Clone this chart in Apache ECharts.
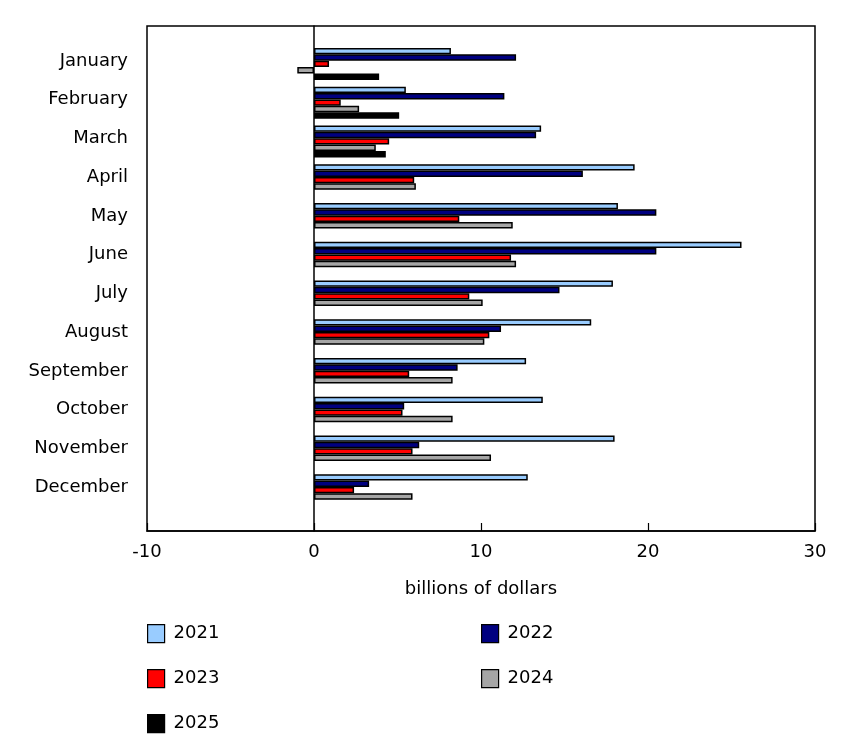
<!DOCTYPE html>
<html>
<head>
<meta charset="utf-8">
<title>Monthly values, 2021 to 2025</title>
<script src="https://cdn.jsdelivr.net/npm/echarts@6/dist/echarts.min.js"></script>
<style>
  html, body { margin: 0; padding: 0; background: #fff; }
  #chart { width: 850px; height: 744px; }
</style>
</head>
<body>
<div id="chart"></div>
<script>
// data (billions of dollars)
const months = ['January', 'February', 'March', 'April', 'May', 'June',
  'July', 'August', 'September', 'October', 'November', 'December']
const years = ['2021', '2022', '2023', '2024', '2025']
const v2021 = [8.2, 5.5, 13.6, 19.2, 18.2, 25.6, 17.9, 16.6, 12.7, 13.7, 18.0, 12.8]
const v2022 = [12.1, 11.4, 13.3, 16.1, 20.5, 20.5, 14.7, 11.2, 8.6, 5.4, 6.3, 3.3]
const v2023 = [0.9, 1.6, 4.5, 6.0, 8.7, 11.8, 9.3, 10.5, 5.7, 5.3, 5.9, 2.4]
const v2024 = [-1.0, 2.7, 3.7, 6.1, 11.9, 12.1, 10.1, 10.2, 8.3, 8.3, 10.6, 5.9]
const v2025 = [3.9, 5.1, 4.3, null, null, null, null, null, null, null, null, null]
const xTicks = { min: -10, max: 30, interval: 10 }

const colors = ['#99CCFF', '#000080', '#FF0000', '#A6A6A6', '#000000']
const values = [v2021, v2022, v2023, v2024, v2025]
const FONT = 'DejaVu Sans'
const FS = 18

// legend slots: two columns, three rows
const legendPos = [[147, 624], [481, 624], [147, 669], [481, 669], [147, 714]]

const chart = echarts.init(document.getElementById('chart'), null, { renderer: 'canvas' })

const series = years.map((y, i) => ({
  name: y,
  type: 'bar',
  xAxisIndex: 1,
  yAxisIndex: 1,
  data: values[i],
  barWidth: 6.4,
  barGap: '0%',
  barCategoryGap: '17%',
  itemStyle: { color: colors[i], borderColor: '#000', borderWidth: 1.5 },
  emphasis: { disabled: true },
}))

const legends = years.map((y, i) => ({
  data: [y],
  left: legendPos[i][0],
  top: legendPos[i][1],
  padding: 0,
  itemWidth: 17,
  itemHeight: 18,
  icon: 'rect',
  itemStyle: { borderColor: '#000', borderWidth: 1.2 },
  textStyle: { fontFamily: FONT, fontSize: FS, color: '#000', padding: [0, 0, 0, 4] },
  selectedMode: false,
}))

chart.setOption({
  animation: false,
  textStyle: { fontFamily: FONT },
  grid: [
    // frame + value axis
    { left: 147, right: 35, top: 26, bottom: 213, show: true, borderColor: '#000', borderWidth: 1.5, backgroundColor: 'transparent' },
    // bars
    { left: 147, right: 35, top: 44.5, bottom: 234.5 },
  ],
  xAxis: [
    {
      type: 'value', gridIndex: 0, ...xTicks,
      axisLine: { show: true, onZero: false, lineStyle: { color: '#000', width: 1.5 } },
      axisTick: { show: true, inside: true, length: 8, lineStyle: { color: '#000', width: 1.2 } },
      splitLine: { show: false },
      axisLabel: { color: '#000', fontSize: FS, fontFamily: FONT, margin: 12 },
      name: 'billions of dollars',
      nameLocation: 'middle',
      nameGap: 49,
      nameTextStyle: { color: '#000', fontSize: FS, fontFamily: FONT },
    },
    { type: 'value', gridIndex: 1, ...xTicks, show: false },
  ],
  yAxis: [
    {
      // vertical zero line across the whole frame
      type: 'value', gridIndex: 0, min: 0, max: 1,
      axisLine: { show: true, onZero: true, lineStyle: { color: '#000', width: 1.5 } },
      axisTick: { show: false },
      axisLabel: { show: false },
      splitLine: { show: false },
    },
    {
      type: 'category', gridIndex: 1, data: months, inverse: true,
      axisLine: { show: false, onZero: false },
      axisTick: { show: false },
      // labels sit a little above the centre of each bar group
      axisLabel: { color: '#000', fontSize: FS, fontFamily: FONT, margin: 19, verticalAlign: 'bottom', lineHeight: 6 },
    },
  ],
  legend: legends,
  series,
})
</script>
</body>
</html>
